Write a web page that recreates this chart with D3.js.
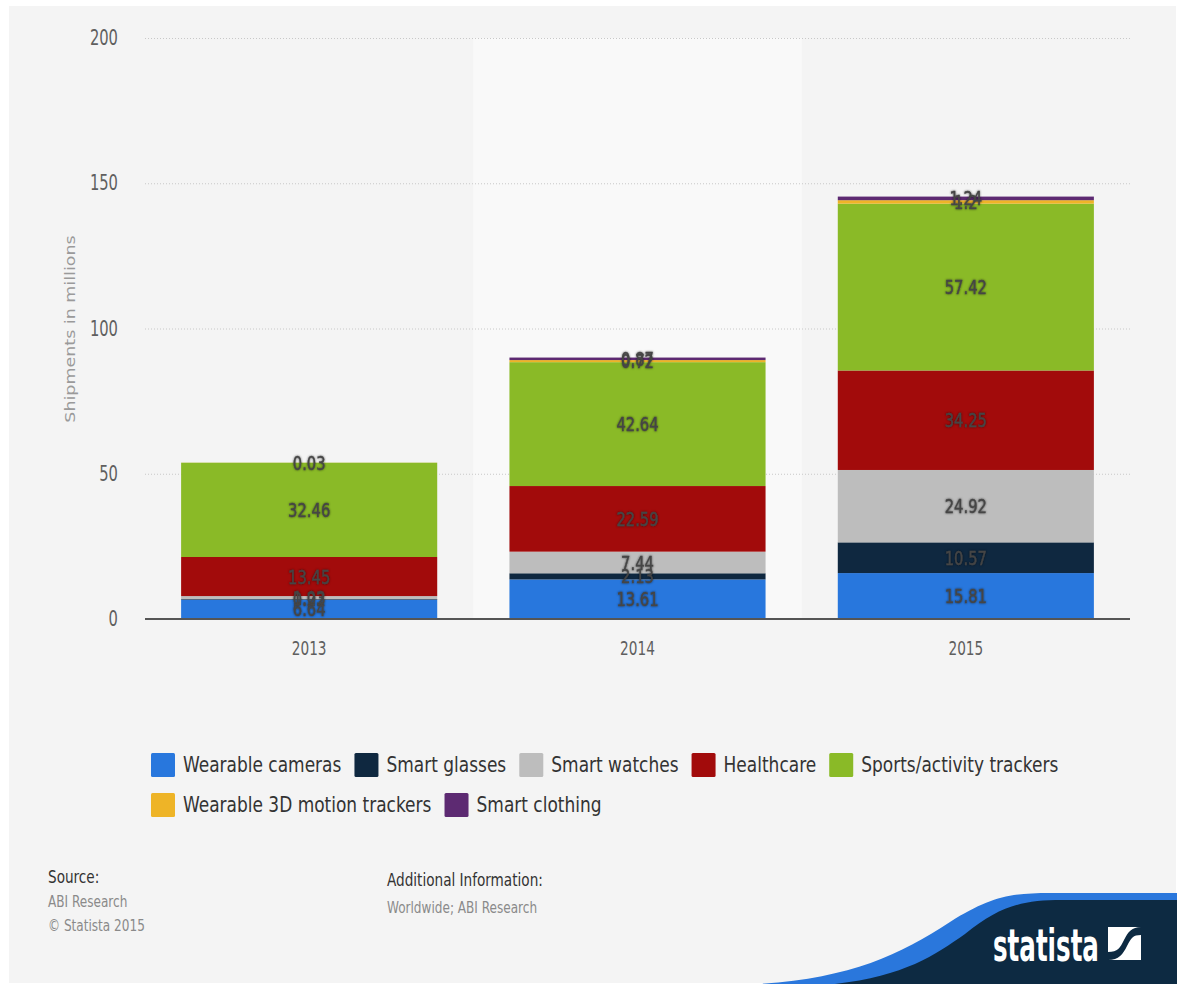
<!DOCTYPE html>
<html>
<head>
<meta charset="utf-8">
<script src="https://cdn.jsdelivr.net/npm/d3@7"></script>
<style>
  html, body { margin: 0; padding: 0; background: #ffffff; }
  svg { display: block; }
  .cond { font-family: "DejaVu Sans Condensed", "DejaVu Sans", sans-serif; font-stretch: condensed; }
  .plain { font-family: "DejaVu Sans", sans-serif; }
</style>
</head>
<body>
<svg id="chart" width="1184" height="987"></svg>
<script>
// Wearable device shipments worldwide, in millions
const years = ["2013", "2014", "2015"];
const seriesNames = [
  "Wearable cameras", "Smart glasses", "Smart watches", "Healthcare",
  "Sports/activity trackers", "Wearable 3D motion trackers", "Smart clothing"
];
const seriesColors = ["#2877dd", "#0f2840", "#bdbdbd", "#a20b0b", "#8aba27", "#eeb427", "#5d2a72"];

const wearableCameras  = [6.64, 13.61, 15.81];
const smartGlasses     = [0.22, 2.13, 10.57];
const smartWatches     = [1.03, 7.44, 24.92];
const healthcare       = [13.45, 22.59, 34.25];
const sportsTrackers   = [32.46, 42.64, 57.42];
const motionTrackers3D = [0.03, 0.72, 1.2];
const smartClothing    = [null, 0.87, 1.24];

const yTicks = [0, 50, 100, 150, 200];
const axisTitle = "Shipments in millions";
const sourceLines = ["ABI Research", "\u00A9 Statista 2015"];
const infoLines = ["Worldwide; ABI Research"];

const seriesValues = [wearableCameras, smartGlasses, smartWatches, healthcare,
                      sportsTrackers, motionTrackers3D, smartClothing];

// rows for d3.stack
const rows = years.map((y, i) => {
  const r = { year: y };
  seriesNames.forEach((n, k) => { r[n] = seriesValues[k][i]; });
  return r;
});

const svg = d3.select("#chart");

// places a text node at (x, y) with a horizontal squeeze
function place(sel, x, y, sx) {
  return sel.attr("x", 0).attr("y", 0)
    .attr("transform", `translate(${x},${y}) scale(${sx},1)`);
}

// panel background
svg.append("rect").attr("x", 9).attr("y", 6).attr("width", 1167).attr("height", 977)
  .attr("fill", "#f4f4f4");

const plot = { left: 145, right: 1130, top: 38, bottom: 619 };

const x = d3.scaleBand().domain(years).range([plot.left, plot.right])
  .paddingInner(0.22).paddingOuter(0.11);
const y = d3.scaleLinear().domain([0, 200]).range([plot.bottom, plot.top]);

// highlighted column for 2014
const step = x.step();
svg.append("rect")
  .attr("x", x("2014") - step * 0.11)
  .attr("y", plot.top)
  .attr("width", step)
  .attr("height", plot.bottom - plot.top)
  .attr("fill", "#f9f9f9");

// grid lines
svg.append("g").selectAll("line").data(yTicks.filter(t => t > 0)).join("line")
  .attr("x1", plot.left).attr("x2", plot.right)
  .attr("y1", d => y(d) + 0.5).attr("y2", d => y(d) + 0.5)
  .attr("stroke", "#c8c8c8").attr("stroke-width", 1)
  .attr("stroke-dasharray", "1,2");

// y tick labels
svg.append("g").selectAll("text").data(yTicks).join("text")
  .attr("class", "cond")
  .attr("font-size", 21).attr("fill", "#5f5f5f")
  .attr("text-anchor", "end").attr("dominant-baseline", "central")
  .text(d => d)
  .each(function (d) { place(d3.select(this), 118, y(d), 0.78); });

// y axis title
svg.append("text").attr("class", "plain")
  .attr("font-size", 17.5).attr("fill", "#9a9a9a")
  .attr("text-anchor", "middle").attr("dominant-baseline", "central")
  .attr("transform", `translate(70,329) scale(0.8,1) rotate(-90)`)
  .text(axisTitle);

// stacked bars
const stack = d3.stack().keys(seriesNames).value((d, k) => d[k] == null ? 0 : d[k]);
const layers = stack(rows);

const barsG = svg.append("g");
layers.forEach((layer, k) => {
  barsG.append("g").attr("fill", seriesColors[k])
    .selectAll("rect").data(layer).join("rect")
    .attr("x", d => x(d.data.year))
    .attr("width", x.bandwidth())
    .attr("y", d => y(d[1]))
    .attr("height", d => Math.max(0, y(d[0]) - y(d[1])));
});

// x axis line
svg.append("line")
  .attr("x1", plot.left).attr("x2", plot.right)
  .attr("y1", plot.bottom).attr("y2", plot.bottom)
  .attr("stroke", "#555").attr("stroke-width", 2);

// x labels
svg.append("g").selectAll("text").data(years).join("text")
  .attr("class", "cond").attr("font-size", 20).attr("fill", "#5f5f5f")
  .attr("text-anchor", "middle").attr("dominant-baseline", "central")
  .text(d => d)
  .each(function (d) { place(d3.select(this), x(d) + x.bandwidth() / 2, 648, 0.76); });

// data labels with a soft dark halo
const defs = svg.append("defs");
const f = defs.append("filter").attr("id", "lblShadow")
  .attr("x", "-20%").attr("y", "-30%").attr("width", "140%").attr("height", "160%");
f.append("feGaussianBlur").attr("in", "SourceAlpha").attr("stdDeviation", 1.2).attr("result", "b");
f.append("feFlood").attr("flood-color", "#000").attr("flood-opacity", 0.6);
f.append("feComposite").attr("in2", "b").attr("operator", "in").attr("result", "s");
const fm = f.append("feMerge");
fm.append("feMergeNode").attr("in", "s");
fm.append("feMergeNode").attr("in", "SourceGraphic");

const labelsG = svg.append("g").attr("filter", "url(#lblShadow)");
layers.forEach((layer, k) => {
  layer.forEach(d => {
    const v = d.data[seriesNames[k]];
    if (v == null) return;
    const t = labelsG.append("text").attr("class", "cond")
      .attr("font-size", 20).attr("fill", "#454545")
      .attr("stroke", "#454545").attr("stroke-width", 0.4)
      .attr("text-anchor", "middle").attr("dominant-baseline", "central")
      .text(v);
    place(t, x(d.data.year) + x.bandwidth() / 2, (y(d[0]) + y(d[1])) / 2, 0.82);
  });
});

// legend
const legendG = svg.append("g");
const legSx = 0.9;
let lx = 151, ly = 765;
seriesNames.forEach((n, k) => {
  const t = legendG.append("text").attr("class", "cond")
    .attr("font-size", 21).attr("fill", "#333")
    .attr("dominant-baseline", "central").text(n);
  const tw = t.node().getComputedTextLength() * legSx;
  if (lx + 32 + tw > 1100) { lx = 151; ly += 40; }
  legendG.append("rect").attr("x", lx).attr("y", ly - 12)
    .attr("width", 24).attr("height", 24).attr("rx", 1.5)
    .attr("fill", seriesColors[k]);
  place(t, lx + 32, ly, legSx);
  lx += 32 + tw + 13;
});

// source and additional information
const srcT = svg.append("text").attr("class", "cond").attr("font-size", 17)
  .attr("fill", "#333").attr("dominant-baseline", "central").text("Source:");
place(srcT, 48, 877, 0.89);
sourceLines.forEach((s, i) => {
  const t = svg.append("text").attr("class", "cond").attr("font-size", 16)
    .attr("fill", "#8a8a8a").attr("dominant-baseline", "central").text(s);
  place(t, 48, 901 + i * 24, 0.84);
});
const infoT = svg.append("text").attr("class", "cond").attr("font-size", 17)
  .attr("fill", "#333").attr("dominant-baseline", "central").text("Additional Information:");
place(infoT, 387, 880, 0.89);
infoLines.forEach((s, i) => {
  const t = svg.append("text").attr("class", "cond").attr("font-size", 16)
    .attr("fill", "#8a8a8a").attr("dominant-baseline", "central").text(s);
  place(t, 387, 907 + i * 24, 0.84);
});

// brand corner
svg.append("path")
  .attr("d", "M760,984 C850,978 900,955 950,922 C990,897 1010,893 1050,893 L1177,893 L1177,984 Z")
  .attr("fill", "#2a77dc");
svg.append("path")
  .attr("d", "M835,984 C905,976 935,955 965,934 C1000,906 1022,900 1062,900 L1177,900 L1177,984 Z")
  .attr("fill", "#0d2a42");
const brand = svg.append("text").attr("class", "cond").attr("font-size", 44)
  .attr("font-weight", "bold").attr("fill", "#ffffff")
  .attr("dominant-baseline", "alphabetic").text("statista");
place(brand, 993, 961, 0.62);
svg.append("rect").attr("x", 1108).attr("y", 927).attr("width", 33).attr("height", 33).attr("fill", "#ffffff");
svg.append("path")
  .attr("d", "M1108,960 L1108,952 C1118,952 1120,948 1124,940 C1128,932 1132,927 1141,927 L1141,935 C1133,935 1131,938 1127,946 C1123,954 1119,960 1108,960 Z")
  .attr("fill", "#0d2a42");
</script>
</body>
</html>
